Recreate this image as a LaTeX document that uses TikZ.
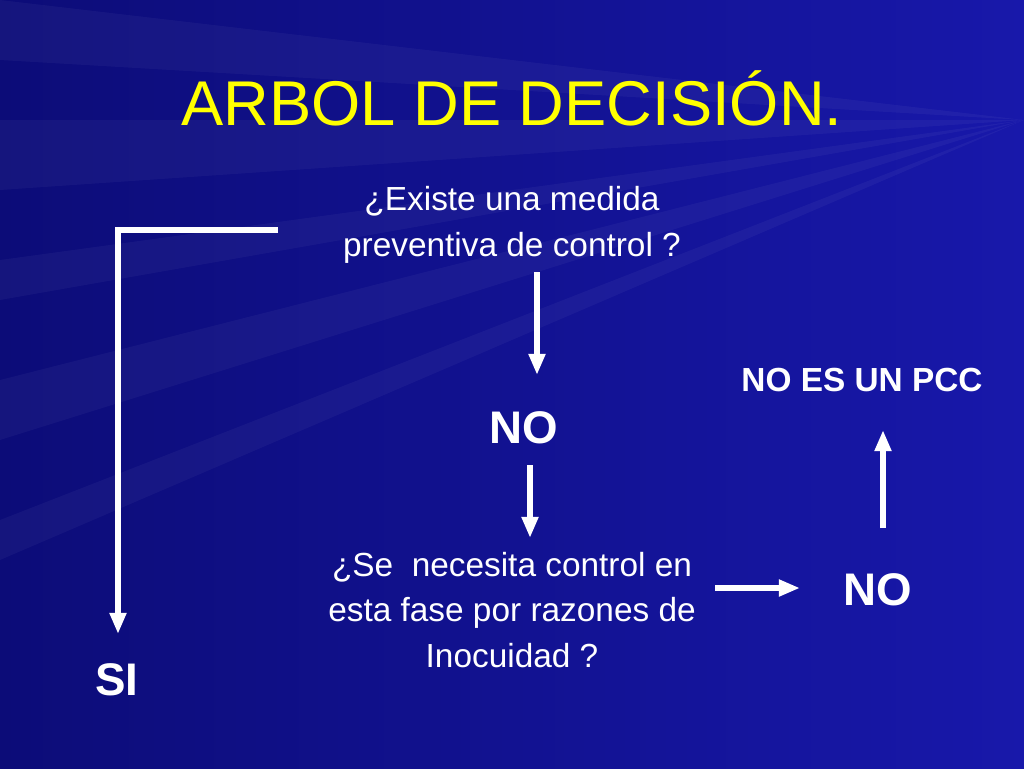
\documentclass[tikz,border=0pt]{standalone}
\usepackage{fontspec}
\setmainfont{Liberation Sans}
\definecolor{navy}{RGB}{12,12,120}
\definecolor{slideblue}{RGB}{24,24,170}
\definecolor{titleyellow}{RGB}{255,255,0}
\tikzset{
  txt/.style={text=white, align=center, font=\fontsize{19}{26}\selectfont},
  big/.style={text=white, font=\fontsize{26}{30}\selectfont\bfseries},
  flow/.style={white, line width=3pt, -{Triangle[length=12pt,width=9pt]}}
}
\usetikzlibrary{arrows.meta}
\begin{document}
\begin{tikzpicture}[x=0.02cm,y=-0.02cm]
    % background
    \shade[left color=navy, right color=slideblue] (0,0) rectangle (1024,768);
    \foreach \a/\b in {0/60, 120/190, 260/300, 380/440, 520/560}
        \fill[white, opacity=0.04] (1024,120) -- (0,\a) -- (0,\b) -- cycle;
    \useasboundingbox (0,0) rectangle (1024,768);
    % title
    \node (title) [text=titleyellow, font=\fontsize{36}{40}\selectfont] at (512,98) {ARBOL DE DECISIÓN.};
    % texts
    \node (q1) [txt] at (512,225) {¿Existe una medida\\preventiva de control ?};
    \node (no1) [big] at (524,428) {NO};
    \node (q2) [txt] at (512,610) {¿Se\ \ necesita control en\\esta fase por razones de\\Inocuidad ?};
    \node (no2) [big] at (878,590) {NO};
    \node (pcc) [txt, font=\fontsize{19}{22}\selectfont\bfseries] at (862,380) {NO ES UN PCC};
    \node (si) [big] at (117,680) {SI};
    % arrows
    \coordinate (a1) at (537,272); \coordinate (b1) at (537,375);
    \coordinate (a2) at (530,465); \coordinate (b2) at (530,538);
    \coordinate (a3) at (715,588); \coordinate (b3) at (800,588);
    \coordinate (a4) at (883,528); \coordinate (b4) at (883,430);
    \coordinate (a5) at (278,230); \coordinate (c5) at (118,230); \coordinate (b5) at (118,634);
    \draw[flow] (a1) -- (b1);
    \draw[flow] (a2) -- (b2);
    \draw[flow] (a3) -- (b3);
    \draw[flow] (a4) -- (b4);
    \draw[flow] (a5) -- (c5) -- (b5);
\end{tikzpicture}
\end{document}
